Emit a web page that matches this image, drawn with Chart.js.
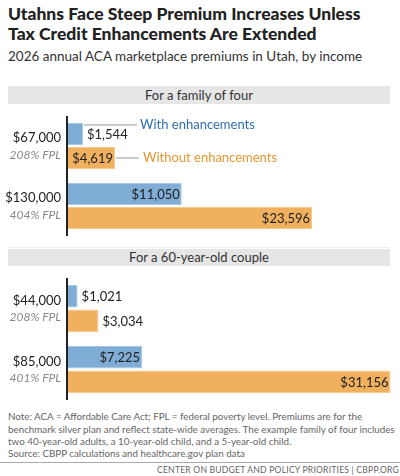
<!DOCTYPE html>
<html>
<head>
<meta charset="utf-8">
<script src="https://cdn.jsdelivr.net/npm/chart.js@4"></script>
<style>
  body { margin: 0; width: 400px; height: 476px; background: #fff; font-family: Lato, "Open Sans", sans-serif; position: relative; overflow: hidden; }
  .abs { position: absolute; }
  h1 { position: absolute; left: 8px; top: 4px; margin: 0; font-size: 17.5px; line-height: 20px; font-weight: 900; color: #222; }
  .sub { left: 8px; top: 48px; font-size: 13.5px; color: #333; }
  .band { left: 8px; width: 382px; background: #e6e6e6; text-align: center; font-size: 13px; color: #333; }
  .note { left: 8px; top: 410px; width: 392px; font-size: 9.8px; line-height: 12.5px; color: #666; }
  .src { left: 8px; top: 447px; font-size: 9.8px; color: #666; }
  .rule { left: 0; top: 462px; width: 400px; height: 1px; background: #aaa; }
  .foot { right: 1px; top: 465px; font-size: 8.6px; color: #666; letter-spacing: 0.2px; }
  canvas { position: absolute; left: 0; }
</style>
</head>
<body>
<h1>Utahns Face Steep Premium Increases Unless<br>Tax Credit Enhancements Are Extended</h1>
<div class="abs sub">2026 annual ACA marketplace premiums in Utah, by income</div>
<div class="abs band" style="top:86px;height:18px;line-height:18px;">For a family of four</div>
<div class="abs" style="left:8px;top:247px;width:382px;height:1px;background:#eee;"></div>
<div class="abs band" style="top:249px;height:17px;line-height:17px;">For a 60-year-old couple</div>
<div class="abs" style="top:116px;width:400px;height:120px;"><canvas id="c1"></canvas></div>
<div class="abs" style="top:278px;width:400px;height:122px;"><canvas id="c2"></canvas></div>
<div class="abs note">Note: ACA = Affordable Care Act; FPL = federal poverty level. Premiums are for the benchmark silver plan and reflect state-wide averages. The example family of four includes two 40-year-old adults, a 10-year-old child, and a 5-year-old child.</div>
<div class="abs src">Source: CBPP calculations and healthcare.gov plan data</div>
<div class="abs rule"></div>
<div class="abs foot">CENTER ON BUDGET AND POLICY PRIORITIES | CBPP.ORG</div>
<script>
const familyIncome = ['$67,000', '$130,000'];
const familyFpl = ['208% FPL', '404% FPL'];
const familyWith = [1544, 11050];
const familyWithout = [4619, 23596];

const coupleIncome = ['$44,000', '$85,000'];
const coupleFpl = ['208% FPL', '401% FPL'];
const coupleWith = [1021, 7225];
const coupleWithout = [3034, 31156];

const seriesNames = ['With enhancements', 'Without enhancements'];
const BLUE = '#7fadd6', ORANGE = '#f0b05e';
const FONT = 'Lato, "Open Sans", sans-serif';

function fmt(v) { return '$' + v.toLocaleString('en-US'); }

const drawPlugin = {
  id: 'draw',
  afterDatasetsDraw(chart, args, opts) {
    const ctx = chart.ctx;
    const area = chart.chartArea;
    const y = chart.scales.y;
    ctx.save();
    // axis line
    ctx.strokeStyle = '#222';
    ctx.lineWidth = 2;
    ctx.beginPath();
    ctx.moveTo(area.left, area.top);
    ctx.lineTo(area.left, area.bottom);
    ctx.stroke();
    // category labels
    ctx.textAlign = 'right';
    ctx.textBaseline = 'middle';
    opts.income.forEach((lab, i) => {
      const cy = y.getPixelForValue(i);
      ctx.fillStyle = '#222';
      ctx.font = '13px ' + FONT;
      ctx.fillText(lab, area.left - 6, cy - 8);
      ctx.fillStyle = '#888';
      ctx.font = 'italic 12px ' + FONT;
      ctx.fillText(opts.fpl[i], area.left - 6, cy + 9);
    });
    // value labels
    ctx.font = '13px ' + FONT;
    chart.data.datasets.forEach((ds, di) => {
      chart.getDatasetMeta(di).data.forEach((bar, i) => {
        const txt = fmt(ds.data[i]);
        const w = ctx.measureText(txt).width;
        ctx.fillStyle = '#222';
        if (bar.x - bar.base > w + 4) {
          ctx.textAlign = 'right';
          ctx.fillText(txt, bar.x - 2, bar.y + 1);
        } else {
          ctx.textAlign = 'left';
          ctx.fillText(txt, bar.x + 4, bar.y + 1);
        }
      });
    });
    // legend callouts
    if (opts.legend) {
      const b0 = chart.getDatasetMeta(0).data[0];
      const b1 = chart.getDatasetMeta(1).data[0];
      ctx.strokeStyle = '#999';
      ctx.lineWidth = 1;
      ctx.font = '13px ' + FONT;
      ctx.textAlign = 'left';
      const ly0 = b0.y - b0.height / 2 + 2;
      ctx.beginPath(); ctx.moveTo(b0.x + 1, ly0); ctx.lineTo(b0.x + 54, ly0); ctx.stroke();
      ctx.fillStyle = '#2f6fb0';
      ctx.fillText(seriesNames[0], b0.x + 57, ly0);
      ctx.beginPath(); ctx.moveTo(b1.x + 1, b1.y); ctx.lineTo(b1.x + 24, b1.y); ctx.stroke();
      ctx.fillStyle = '#e8962e';
      ctx.fillText(seriesNames[1], b1.x + 28, b1.y);
    }
    ctx.restore();
  }
};

function makeChart(id, labels, withVals, withoutVals, fpl, legend) {
  new Chart(document.getElementById(id), {
    type: 'bar',
    data: {
      labels: labels,
      datasets: [
        { label: seriesNames[0], data: withVals, backgroundColor: BLUE, borderColor: '#a9c8e6', borderWidth: 1, borderSkipped: 'left' },
        { label: seriesNames[1], data: withoutVals, backgroundColor: ORANGE, borderColor: '#f5c98f', borderWidth: 1, borderSkipped: 'left' }
      ]
    },
    options: {
      indexAxis: 'y',
      responsive: true,
      maintainAspectRatio: false,
      animation: false,
      categoryPercentage: 0.8,
      barPercentage: 0.92,
      layout: { padding: { left: 67, right: 9, top: 0, bottom: 0 } },
      scales: {
        x: { display: false, min: 0, max: 31200 },
        y: { display: false }
      },
      plugins: {
        legend: { display: false },
        tooltip: { enabled: false },
        draw: { income: labels, fpl: fpl, legend: legend }
      }
    },
    plugins: [drawPlugin]
  });
}

makeChart('c1', familyIncome, familyWith, familyWithout, familyFpl, true);
makeChart('c2', coupleIncome, coupleWith, coupleWithout, coupleFpl, false);
</script>
</body>
</html>
